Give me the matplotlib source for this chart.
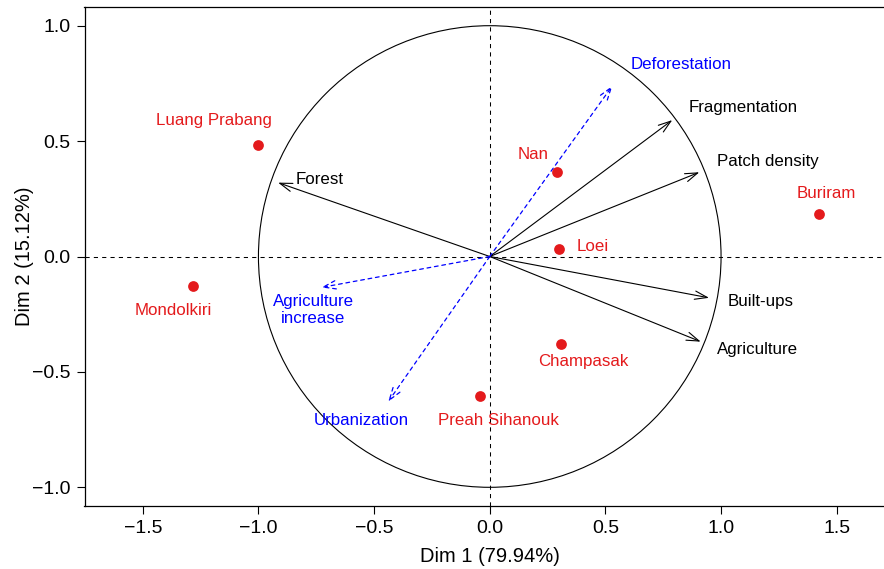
import matplotlib
matplotlib.use("Agg")
import matplotlib.pyplot as plt
from matplotlib.patches import Circle

plt.rcParams['font.family'] = ['Liberation Sans', 'DejaVu Sans']

# --- individuals (provinces) ---
ind_names = ["Luang Prabang", "Mondolkiri", "Nan", "Loei", "Buriram",
             "Champasak", "Preah Sihanouk"]
ind_x = [-1.002, -1.283, 0.289, 0.299, 1.425, 0.306, -0.041]
ind_y = [0.483, -0.128, 0.365, 0.034, 0.184, -0.380, -0.606]

# --- active variables ---
var_names = ["Forest", "Fragmentation", "Patch density", "Built-ups", "Agriculture"]
var_x = [-0.915, 0.789, 0.906, 0.948, 0.912]
var_y = [0.320, 0.591, 0.365, -0.179, -0.369]

# --- supplementary variables ---
sup_names = ["Deforestation", "Agriculture\nincrease", "Urbanization"]
sup_x = [0.530, -0.728, -0.439]
sup_y = [0.739, -0.134, -0.629]

xlabel = "Dim 1 (79.94%)"
ylabel = "Dim 2 (15.12%)"
xticks = [-1.5, -1.0, -0.5, 0.0, 0.5, 1.0, 1.5]
yticks = [-1.0, -0.5, 0.0, 0.5, 1.0]

# label anchor positions (layout)
ind_lab = [(-1.192, 0.588), (-1.368, -0.236), (0.189, 0.440), (0.445, 0.042),
           (1.455, 0.271), (0.403, -0.453), (0.036, -0.709)]
var_lab = [(-0.734, 0.334), (1.096, 0.645), (1.203, 0.411), (1.173, -0.196),
           (1.157, -0.405)]
sup_lab = [(0.827, 0.834), (-0.763, -0.232), (-0.557, -0.711)]

RED = "#E41A1C"
BLUE = "#0000FF"


def fmt(t):
    return f"{t:.1f}".replace("-", "\u2212")


fig = plt.figure(figsize=(8.84, 5.69), dpi=100)
ax = fig.add_axes([84.5 / 884, 63 / 569, (895 - 84.5) / 884, 499 / 569])
ax.set_xlim(-1.752, 1.752)
ax.set_ylim(-1.081, 1.081)

ax.axhline(0, color="black", lw=0.75, dashes=(4, 4), zorder=1)
ax.axvline(0, color="black", lw=0.75, dashes=(4, 4), zorder=1)
ax.add_patch(Circle((0, 0), 1.0, fill=False, ec="black", lw=0.8, zorder=1))

for x, y in zip(var_x, var_y):
    ax.annotate("", xy=(x, y), xytext=(0, 0),
                arrowprops=dict(arrowstyle="->,head_length=0.9,head_width=0.3",
                                color="black", lw=0.8, shrinkA=0, shrinkB=0,
                                mutation_scale=10))
for x, y in zip(sup_x, sup_y):
    ax.annotate("", xy=(x, y), xytext=(0, 0),
                arrowprops=dict(arrowstyle="->,head_length=0.9,head_width=0.3",
                                color=BLUE, lw=0.9, ls=(0, (3, 3)),
                                shrinkA=0, shrinkB=0, mutation_scale=10))

ax.scatter(ind_x, ind_y, s=60, color=RED, zorder=3, linewidths=0)

for name, (lx, ly) in zip(var_names, var_lab):
    ax.text(lx, ly, name, color="black", fontsize=12.2, ha="center", va="center")
for name, (lx, ly) in zip(sup_names, sup_lab):
    ax.text(lx, ly, name, color=BLUE, fontsize=12.2, ha="center", va="center",
            linespacing=1.1)
for name, (lx, ly) in zip(ind_names, ind_lab):
    ax.text(lx, ly, name, color=RED, fontsize=12.2, ha="center", va="center")

ax.set_xticks(xticks)
ax.set_yticks(yticks)
ax.set_xticklabels([fmt(t) for t in xticks])
ax.set_yticklabels([fmt(t) for t in yticks])
ax.tick_params(labelsize=14, length=6, width=0.8, pad=4)
ax.set_xlabel(xlabel, fontsize=14.5, labelpad=7)
ax.set_ylabel(ylabel, fontsize=14.5, labelpad=-1)
for s in ax.spines.values():
    s.set_linewidth(0.9)

fig.savefig("out.png", dpi=100)
